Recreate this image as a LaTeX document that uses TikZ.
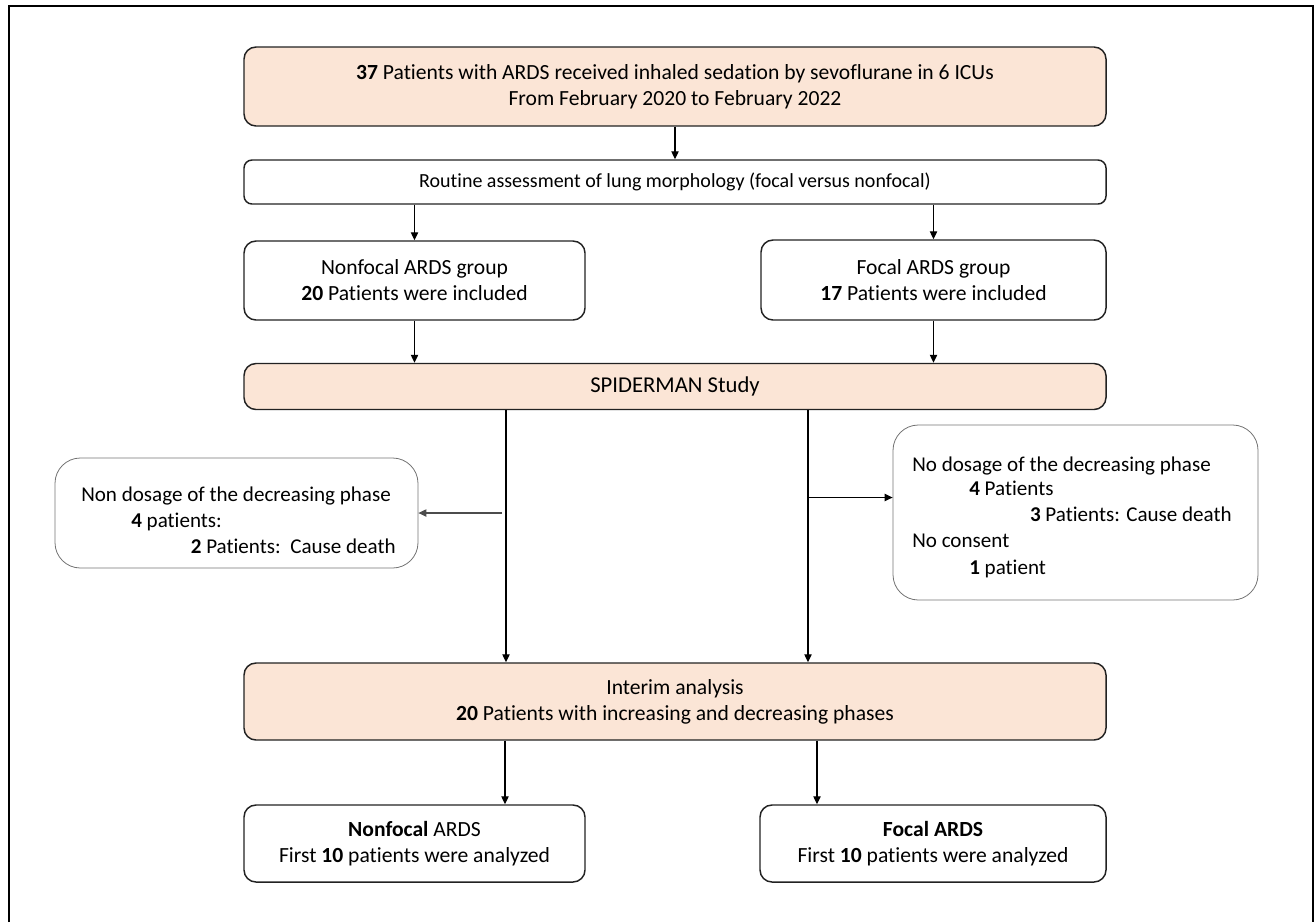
\documentclass[tikz,border=0pt]{standalone}
\usepackage{fontspec}
\setmainfont{Carlito}[Ligatures=NoCommon]
\usetikzlibrary{arrows.meta}
\definecolor{peach}{HTML}{FBE5D6}
\definecolor{edge}{HTML}{222222}
\newlength\px \setlength\px{0.75pt}
\begin{document}
\begin{tikzpicture}[x=0.75pt,y=-0.75pt,
  every node/.style={font=\fontsize{16.2}{19.5}\selectfont},
  mainbox/.style={draw=edge, line width=1.1pt, rounded corners=9pt, inner sep=0pt, align=center},
  peachbox/.style={mainbox, fill=peach},
  sidebox/.style={draw=black!55, line width=0.6pt, rounded corners=19pt, inner sep=0pt},
  line/.style={anchor=base west, inner sep=0pt, font=\fontsize{15.8}{19.5}\selectfont},
  lineend/.style={line, anchor=base east},
  arr/.style={draw=black, line width=0.9pt, -{Triangle[length=6pt,width=5.5pt]}},
  grayarr/.style={draw=black!70, line width=0.8pt, -{Triangle[length=6pt,width=5.5pt]}}]
\useasboundingbox (0,0) rectangle (1316,922);
% outer frame
\draw[line width=1.5pt] (9,922) -- (9,6) -- (1313,6) -- (1313,922);

\node[peachbox, minimum width=862\px, minimum height=79\px] (top) at (675,86.5)
  {\textbf{37} Patients with ARDS received inhaled sedation by sevoflurane in 6 ICUs\\From February 2020 to February 2022};
\node[mainbox, rounded corners=6pt, minimum width=862\px, minimum height=44\px,
  font=\fontsize{15}{18}\selectfont] (routine) at (675,182)
  {Routine assessment of lung morphology (focal versus nonfocal)};
\node[mainbox, minimum width=341\px, minimum height=79\px] (nf) at (414.5,280.5)
  {Nonfocal ARDS group\\\textbf{20} Patients were included};
\node[mainbox, minimum width=345\px, minimum height=80\px] (fg) at (933.5,280)
  {Focal ARDS group\\\textbf{17} Patients were included};
\node[peachbox, minimum width=862\px, minimum height=46\px,
  font=\fontsize{17}{20}\selectfont] (spider) at (675,386.5)
  {SPIDERMAN Study};

\node[sidebox, minimum width=363\px, minimum height=110\px] (sideL) at (236.5,513) {};
\node[line] (l1) at (81,501) {Non dosage of the decreasing phase};
\node[line] (l2) at (131,527) {\textbf{4} patients:};
\node[lineend] (l3) at (396,553) {\textbf{2} Patients:\ \ Cause death};

\node[sidebox, minimum width=365\px, minimum height=175\px] (sideR) at (1075.5,512.5) {};
\node[line] (r1) at (912,471) {No dosage of the decreasing phase};
\node[line] (r2) at (969,495) {\textbf{4} Patients};
\node[lineend] (r3) at (1232,521) {\textbf{3} Patients: Cause death};
\node[line] (r4) at (912,547) {No consent};
\node[line] (r5) at (969,574) {\textbf{1} patient};

\node[peachbox, minimum width=862\px, minimum height=77\px] (interim) at (675,701.5)
  {Interim analysis\\\textbf{20} Patients with increasing and decreasing phases};
\node[mainbox, minimum width=341\px, minimum height=77\px] (nfa) at (414.5,843.5)
  {\textbf{Nonfocal} ARDS\\First \textbf{10} patients were analyzed};
\node[mainbox, minimum width=346\px, minimum height=77\px] (fa) at (933,843.5)
  {\textbf{Focal ARDS}\\First \textbf{10} patients were analyzed};

% connectors
\draw[arr] (top.south) -- (routine.north);
\draw[arr] (nf.north |- routine.south) -- (nf.north);
\draw[arr] (fg.north |- routine.south) -- (fg.north);
\draw[arr] (nf.south) -- (nf.south |- spider.north);
\draw[arr] (fg.south) -- (fg.south |- spider.north);
\draw[arr] ([xshift=-169\px]spider.south) -- ([xshift=-169\px]interim.north);
\draw[arr] ([xshift=133\px]spider.south) -- ([xshift=133\px]interim.north);
\coordinate (lb) at (502,513);
\draw[grayarr] (lb) -- (sideL.east);
\coordinate (rb) at (808,497.5);
\draw[arr] (rb) -- (rb -| sideR.west);
\path ([xshift=90.5\px]nfa.north) coordinate (c1);
\path ([xshift=-116\px]fa.north) coordinate (c2);
\draw[arr] (c1 |- interim.south) -- (c1);
\draw[arr] (c2 |- interim.south) -- (c2);
\end{tikzpicture}
\end{document}
